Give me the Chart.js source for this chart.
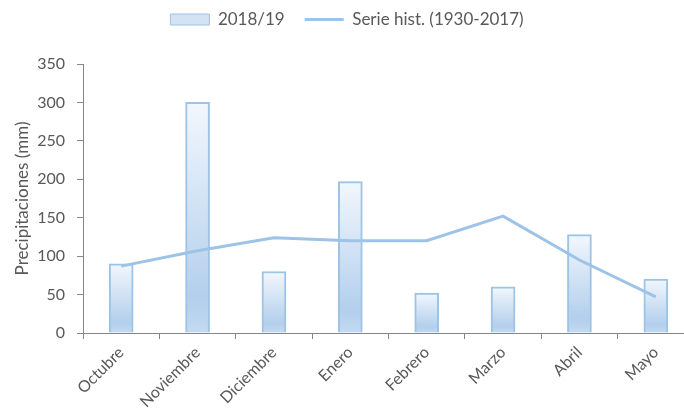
<!DOCTYPE html>
<html>
<head>
<meta charset="utf-8">
<script src="https://cdn.jsdelivr.net/npm/chart.js@4/dist/chart.umd.min.js"></script>
<style>
html,body{margin:0;padding:0;background:#fff;overflow:hidden;}
#wrap{width:698px;height:413px;position:relative;}
</style>
</head>
<body>
<div id="wrap"><canvas id="c" width="698" height="413"></canvas></div>
<script>
const categories = ['Octubre','Noviembre','Diciembre','Enero','Febrero','Marzo','Abril','Mayo'];
const season2018 = [90, 300, 80, 197, 52, 60, 128, 70];
const historical = [87, 107, 124, 120, 120, 152, 95, 47];
const yTicks = [0, 50, 100, 150, 200, 250, 300, 350];
const seriesNames = ['2018/19', 'Serie hist. (1930-2017)'];

const FONT = 'Lato, "Open Sans", sans-serif';
const TXT = '#595959';
const BLUE = '#9dc3e6';

function barGradient(ctx) {
  const chart = ctx.chart;
  if (!chart.chartArea || ctx.type !== 'data') return '#c9ddf1';
  const y = chart.scales.y;
  const top = y.getPixelForValue(ctx.raw);
  const bottom = y.getPixelForValue(0);
  const g = chart.ctx.createLinearGradient(0, top, 0, bottom);
  g.addColorStop(0, '#f2f7fd');
  g.addColorStop(0.85, '#b3cfec');
  g.addColorStop(1, '#c3daf1');
  return g;
}

// empty layout box between the legend and the plot area
const spacerPlugin = {
  id: 'spacer',
  beforeInit(chart) {
    const box = {
      position: 'top', weight: 500, fullSize: true,
      options: { stackWeight: 1 },
      left: 0, top: 0, right: 0, bottom: 0, width: 0, height: 0,
      isHorizontal() { return true; },
      update(maxWidth) { this.width = maxWidth; this.height = 26; return this; },
      draw() {}
    };
    Chart.layouts.addBox(chart, box);
  }
};

new Chart(document.getElementById('c'), {
  type: 'bar',
  plugins: [spacerPlugin],
  data: {
    labels: categories,
    datasets: [
      {
        type: 'bar',
        label: seriesNames[0],
        data: season2018,
        backgroundColor: barGradient,
        borderColor: BLUE,
        borderWidth: 2,
        barThickness: 24,
        pointStyle: 'rect',
        order: 2
      },
      {
        type: 'line',
        label: seriesNames[1],
        data: historical,
        borderColor: BLUE,
        backgroundColor: BLUE,
        borderWidth: 3,
        pointRadius: 0,
        pointStyle: 'line',
        tension: 0,
        order: 1
      }
    ]
  },
  options: {
    responsive: false,
    animation: false,
    layout: { padding: { top: -9, right: 4, bottom: 0, left: 0 } },
    plugins: {
      tooltip: { enabled: false },
      legend: {
        position: 'top',
        labels: {
          usePointStyle: true,
          pointStyleWidth: 39,
          boxHeight: 11,
          padding: 20,
          color: TXT,
          font: { family: FONT, size: 17 },
          sort: (a, b) => a.datasetIndex - b.datasetIndex,
          generateLabels: (chart) => {
            const items = Chart.defaults.plugins.legend.labels.generateLabels(chart);
            items.forEach(it => {
              if (it.datasetIndex === 0) {
                it.fillStyle = '#d3e3f4';
                it.strokeStyle = BLUE;
                it.lineWidth = 1;
              } else {
                it.strokeStyle = BLUE;
                it.lineWidth = 3;
              }
            });
            return items;
          }
        }
      }
    },
    scales: {
      x: {
        offset: true,
        afterFit: (axis) => { axis.height = 80; },
        grid: { display: true, drawOnChartArea: false, drawTicks: true, tickLength: 6, color: '#868686', offset: true },
        border: { color: '#868686', width: 1 },
        ticks: { color: TXT, font: { family: FONT, size: 16 }, minRotation: 45, maxRotation: 45, padding: 4 }
      },
      y: {
        min: 0,
        max: 350,
        afterFit: (axis) => { axis.width = 83; },
        afterBuildTicks: (axis) => { axis.ticks = yTicks.map(v => ({ value: v })); },
        grid: { display: true, drawOnChartArea: false, drawTicks: true, tickLength: 6, color: '#868686' },
        border: { color: '#868686', width: 1 },
        ticks: { color: TXT, font: { family: FONT, size: 16 }, padding: 12 },
        title: { display: true, text: 'Precipitaciones (mm)', color: TXT, font: { family: FONT, size: 17 }, padding: { top: 12, bottom: 0 } }
      }
    }
  }
});
</script>
</body>
</html>
